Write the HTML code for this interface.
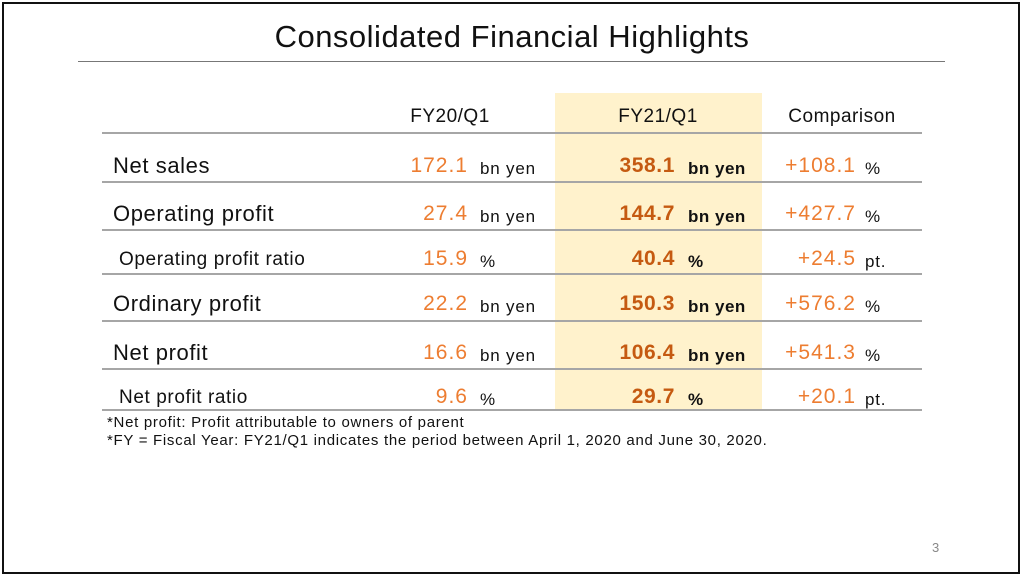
<!DOCTYPE html>
<html><head><meta charset="utf-8"><style>
body{margin:0;width:1024px;height:578px;background:#fff;font-family:"Liberation Sans",sans-serif;position:relative;overflow:hidden}
.a{position:absolute;white-space:nowrap}
.frame{position:absolute;left:2px;top:2px;width:1018px;height:572px;border:2px solid #111;box-sizing:border-box}
.hl{position:absolute;left:555px;top:93px;width:207px;height:316px;background:#FFF2CC}
.line{position:absolute;left:102px;width:820px;height:2px;background:#A6A6A6}
.lab{font-size:22px;color:#111;letter-spacing:0.6px}
.lab.s{font-size:19px;letter-spacing:0.6px}
.n1{color:#ED7D31;font-size:21px;text-align:right;width:110px;letter-spacing:1px}
.n2{color:#C55A11;font-size:21px;font-weight:bold;text-align:right;width:110px;letter-spacing:0.6px}
.u{font-size:17px;color:#111;letter-spacing:0.8px}
.u.b{font-weight:bold;letter-spacing:0.5px}
.hd{font-size:19px;color:#111;text-align:center;letter-spacing:0.5px}
</style></head><body>
<div class="frame"></div>
<div class="a" style="left:0;width:1024px;text-align:center;top:19px;font-size:31px;letter-spacing:0.5px;color:#111">Consolidated Financial Highlights</div>
<div class="a" style="left:78px;top:61px;width:867px;height:1px;background:#777"></div>
<div class="hl"></div>
<div class="a hd" style="left:380px;width:140px;top:106px">FY20/Q1</div>
<div class="a hd" style="left:588px;width:140px;top:106px">FY21/Q1</div>
<div class="a hd" style="left:772px;width:140px;top:106px">Comparison</div>
<div id="tbl"></div>
<div class="a" style="left:107px;top:414px;font-size:15px;letter-spacing:0.7px;color:#111">*Net profit: Profit attributable to owners of parent</div>
<div class="a" style="left:107px;top:432px;font-size:15px;letter-spacing:0.7px;color:#111">*FY = Fiscal Year: FY21/Q1 indicates the period between April 1, 2020 and June 30, 2020.</div>
<div class="a" style="left:932px;top:540px;font-size:13px;color:#888">3</div>
<script>
const labels=["Net sales","Operating profit","Operating profit ratio","Ordinary profit","Net profit","Net profit ratio"];
const fy20=["172.1","27.4","15.9","22.2","16.6","9.6"];
const fy21=["358.1","144.7","40.4","150.3","106.4","29.7"];
const comp=["+108.1","+427.7","+24.5","+576.2","+541.3","+20.1"];
const units=["bn yen","bn yen","%","bn yen","bn yen","%"];
const compUnits=["%","%","pt.","%","%","pt."];
const small=[false,false,true,false,false,true];
const tops=[154,202,247,292,341,385];
const lines=[132,181,229,273,320,368,409];
const t=document.getElementById('tbl');
function add(cls,txt,l,tp){const d=document.createElement('div');d.className='a '+cls;d.textContent=txt;d.style.left=l+'px';d.style.top=tp+'px';t.appendChild(d);return d;}
lines.forEach(y=>{const d=document.createElement('div');d.className='line';d.style.top=y+'px';


t.appendChild(d);});
labels.forEach((lab,i)=>{const y=tops[i];
let e=add('lab'+(small[i]?' s':''),lab,small[i]?119:113,small[i]?y+2:y-1);


e=add('n1',fy20[i],358,y);


e=add('u',units[i],480,y+5);


e=add('n2',fy21[i],565,y);


e=add('u b',units[i],688,y+5);


e=add('n1',comp[i],746,y);


e=add('u',compUnits[i],865,y+5);


});
</script>
</body></html>
